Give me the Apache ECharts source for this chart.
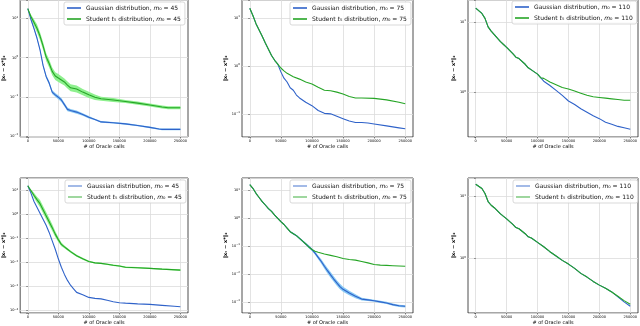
<!DOCTYPE html>
<html>
<head>
<meta charset="utf-8">
<script src="https://cdn.jsdelivr.net/npm/echarts@6/dist/echarts.min.js"></script>
<style>
  html, body { margin: 0; padding: 0; background: #fff; }
  #chart { width: 640px; height: 326px; }
</style>
</head>
<body>
<div id="chart"></div>
<script>
// x ticks shared by every panel
const xTicks = [0, 50000, 100000, 150000, 200000, 250000];
const xLabel = '# of Oracle calls';
const yLabel = '\u2016x\u209C \u2212 x*\u2016\u2082';

// values are log10 of the error; spread = half width of the shaded band (decades)
// --- top row ---
const gaussTop45X = [0, 5000, 10000, 15000, 20000, 25000, 30000, 35000, 40000, 45000, 50000, 55000, 60000, 65000, 70000, 80000, 90000, 100000, 110000, 120000, 140000, 160000, 180000, 200000, 215000, 220000, 250000];
const gaussTop45 = [1.25, 0.98, 0.75, 0.5, 0.2, -0.2, -0.48, -0.65, -0.88, -0.95, -1.01, -1.08, -1.2, -1.32, -1.35, -1.39, -1.45, -1.52, -1.58, -1.64, -1.66, -1.69, -1.73, -1.78, -1.82, -1.83, -1.83];
const gaussTop45Spread = [0, 0.02, 0.02, 0.03, 0.03, 0.04, 0.04, 0.05, 0.05, 0.05, 0.05, 0.05, 0.05, 0.05, 0.04, 0.04, 0.03, 0.03, 0.02, 0.02, 0.02, 0.02, 0.02, 0.02, 0.02, 0.02, 0.02];
const studTop45X = [0, 5000, 10000, 15000, 20000, 25000, 30000, 35000, 40000, 45000, 50000, 60000, 65000, 70000, 80000, 90000, 100000, 110000, 120000, 140000, 160000, 180000, 200000, 220000, 230000, 250000];
const studTop45 = [1.25, 1.05, 0.9, 0.75, 0.55, 0.3, 0.02, -0.15, -0.35, -0.47, -0.52, -0.62, -0.7, -0.77, -0.8, -0.88, -0.95, -1.01, -1.05, -1.08, -1.12, -1.16, -1.21, -1.26, -1.28, -1.28];
const studTop45Spread = [0, 0.05, 0.08, 0.1, 0.1, 0.1, 0.1, 0.1, 0.1, 0.1, 0.1, 0.09, 0.09, 0.09, 0.09, 0.08, 0.08, 0.07, 0.05, 0.05, 0.04, 0.04, 0.04, 0.04, 0.04, 0.04];

const gaussTop75X = [0, 5000, 10000, 15000, 20000, 25000, 30000, 35000, 40000, 45000, 50000, 55000, 60000, 65000, 70000, 75000, 80000, 90000, 100000, 110000, 120000, 130000, 140000, 150000, 160000, 170000, 180000, 190000, 200000, 220000, 240000, 250000];
const gaussTop75 = [1.2, 1.05, 0.88, 0.75, 0.62, 0.48, 0.35, 0.22, 0.12, 0.04, -0.12, -0.25, -0.33, -0.45, -0.5, -0.6, -0.66, -0.75, -0.82, -0.92, -0.98, -0.99, -1.04, -1.09, -1.14, -1.17, -1.17, -1.18, -1.2, -1.24, -1.28, -1.3];
const studTop75X = [0, 5000, 10000, 15000, 20000, 25000, 30000, 35000, 40000, 45000, 50000, 55000, 60000, 70000, 80000, 90000, 100000, 110000, 120000, 130000, 140000, 150000, 160000, 170000, 180000, 200000, 220000, 240000, 250000];
const studTop75 = [1.2, 1.05, 0.88, 0.75, 0.62, 0.48, 0.35, 0.22, 0.12, 0.04, -0.04, -0.1, -0.15, -0.22, -0.27, -0.33, -0.37, -0.44, -0.5, -0.51, -0.54, -0.58, -0.63, -0.66, -0.66, -0.67, -0.7, -0.75, -0.78];

const gaussTop110X = [0, 10000, 15000, 20000, 25000, 30000, 40000, 45000, 50000, 60000, 65000, 70000, 80000, 85000, 90000, 100000, 105000, 110000, 120000, 130000, 140000, 150000, 160000, 170000, 180000, 190000, 200000, 210000, 220000, 230000, 240000, 250000];
const gaussTop110 = [1.195, 1.12, 1.05, 0.93, 0.87, 0.82, 0.72, 0.68, 0.64, 0.55, 0.5, 0.48, 0.4, 0.35, 0.32, 0.26, 0.21, 0.16, 0.1, 0.03, -0.04, -0.12, -0.17, -0.23, -0.28, -0.33, -0.37, -0.42, -0.45, -0.48, -0.5, -0.52];
const studTop110X = gaussTop110X;
const studTop110 = [1.195, 1.12, 1.05, 0.93, 0.87, 0.82, 0.72, 0.68, 0.64, 0.55, 0.5, 0.48, 0.4, 0.35, 0.32, 0.26, 0.21, 0.2, 0.15, 0.11, 0.07, 0.05, 0.02, -0.01, -0.04, -0.06, -0.07, -0.08, -0.09, -0.1, -0.11, -0.11];

// --- bottom row ---
const gaussBot45X = [0, 5000, 10000, 15000, 20000, 25000, 30000, 35000, 40000, 45000, 50000, 55000, 60000, 65000, 70000, 75000, 80000, 90000, 100000, 110000, 120000, 130000, 140000, 150000, 160000, 180000, 200000, 220000, 240000, 250000];
const gaussBot45 = [1.2, 0.9, 0.55, 0.3, 0.05, -0.2, -0.45, -0.75, -1.1, -1.45, -1.85, -2.2, -2.5, -2.75, -2.95, -3.1, -3.25, -3.35, -3.46, -3.5, -3.52, -3.58, -3.64, -3.68, -3.7, -3.73, -3.75, -3.79, -3.83, -3.85];
const studBot45X = [0, 5000, 10000, 15000, 20000, 25000, 30000, 35000, 40000, 45000, 50000, 55000, 60000, 65000, 70000, 80000, 90000, 100000, 110000, 120000, 130000, 140000, 150000, 160000, 180000, 200000, 220000, 250000];
const studBot45 = [1.2, 1.0, 0.8, 0.62, 0.45, 0.2, -0.05, -0.3, -0.55, -0.82, -1.05, -1.25, -1.35, -1.45, -1.55, -1.72, -1.85, -1.96, -2.02, -2.04, -2.08, -2.12, -2.15, -2.2, -2.22, -2.25, -2.28, -2.32];
const studBot45Spread = [0, 0.05, 0.1, 0.12, 0.15, 0.15, 0.15, 0.15, 0.14, 0.12, 0.1, 0.08, 0.06, 0.05, 0.05, 0.04, 0.04, 0.03, 0.03, 0.03, 0.03, 0.03, 0.03, 0.03, 0.03, 0.03, 0.03, 0.03];

const gaussBot75X = [0, 5000, 10000, 15000, 20000, 25000, 30000, 35000, 40000, 45000, 50000, 55000, 60000, 65000, 70000, 75000, 80000, 85000, 90000, 95000, 100000, 105000, 110000, 115000, 120000, 125000, 130000, 135000, 140000, 145000, 150000, 160000, 170000, 180000, 190000, 200000, 210000, 220000, 230000, 240000, 250000];
const gaussBot75 = [1.21, 1.08, 0.9, 0.75, 0.6, 0.48, 0.35, 0.25, 0.12, 0.0, -0.12, -0.22, -0.35, -0.48, -0.55, -0.62, -0.72, -0.82, -0.92, -1.02, -1.12, -1.25, -1.4, -1.55, -1.72, -1.88, -2.03, -2.18, -2.32, -2.45, -2.55, -2.68, -2.8, -2.9, -2.93, -2.96, -3.0, -3.04, -3.1, -3.14, -3.16];
const gaussBot75Spread = [0, 0, 0, 0, 0.02, 0.02, 0.02, 0.02, 0.02, 0.02, 0.02, 0.02, 0.02, 0.02, 0.03, 0.03, 0.03, 0.04, 0.04, 0.05, 0.05, 0.06, 0.07, 0.08, 0.09, 0.1, 0.1, 0.1, 0.1, 0.1, 0.09, 0.08, 0.07, 0.05, 0.04, 0.04, 0.04, 0.04, 0.04, 0.04, 0.04];
const studBot75X = [0, 5000, 10000, 15000, 20000, 25000, 30000, 35000, 40000, 45000, 50000, 55000, 60000, 65000, 70000, 75000, 80000, 85000, 90000, 95000, 100000, 105000, 110000, 120000, 130000, 140000, 150000, 160000, 170000, 180000, 190000, 200000, 210000, 220000, 230000, 240000, 250000];
const studBot75 = [1.21, 1.08, 0.9, 0.75, 0.6, 0.48, 0.35, 0.25, 0.12, 0.0, -0.12, -0.22, -0.35, -0.48, -0.55, -0.62, -0.72, -0.82, -0.92, -1.03, -1.12, -1.18, -1.22, -1.28, -1.33, -1.38, -1.44, -1.48, -1.5, -1.55, -1.6, -1.66, -1.68, -1.69, -1.7, -1.71, -1.72];

const gaussBot110X = [0, 10000, 15000, 20000, 25000, 30000, 40000, 45000, 50000, 60000, 65000, 70000, 80000, 85000, 90000, 100000, 110000, 120000, 130000, 140000, 150000, 160000, 170000, 180000, 190000, 200000, 210000, 220000, 230000, 240000, 250000];
const gaussBot110 = [1.2, 1.13, 1.05, 0.92, 0.86, 0.82, 0.72, 0.68, 0.64, 0.55, 0.5, 0.48, 0.4, 0.35, 0.33, 0.26, 0.19, 0.11, 0.04, -0.03, -0.09, -0.16, -0.24, -0.3, -0.37, -0.43, -0.48, -0.54, -0.62, -0.7, -0.77];
const studBot110X = gaussBot110X;
const studBot110 = [1.2, 1.13, 1.05, 0.92, 0.86, 0.82, 0.72, 0.68, 0.64, 0.55, 0.5, 0.48, 0.4, 0.35, 0.33, 0.26, 0.19, 0.11, 0.04, -0.03, -0.09, -0.16, -0.24, -0.3, -0.37, -0.43, -0.48, -0.54, -0.61, -0.68, -0.74];

const BLUE = '#2f62c9', BLUE_BAND = '#86c8f4';
const GREEN = '#26a526', GREEN_BAND = '#8ef08e';

function names(m0) {
  return ['Gaussian distribution, m\u2080 = ' + m0, 'Student t\u2085 distribution, m\u2080 = ' + m0];
}

const panels = [
  { grid: { left: 17, top: -2, width: 171, height: 139 }, yMin: -2.025, yMax: 1.47, legend: { left: 64, top: 2 }, m0: 45,
    gauss: [gaussTop45X, gaussTop45, gaussTop45Spread], stud: [studTop45X, studTop45, studTop45Spread] },
  { grid: { left: 242, top: -2, width: 171, height: 139 }, yMin: -1.47, yMax: 1.37, legend: { left: 290, top: 2 }, m0: 75,
    gauss: [gaussTop75X, gaussTop75, null], stud: [studTop75X, studTop75, null] },
  { grid: { left: 468, top: -2, width: 170, height: 139 }, yMin: -0.63, yMax: 1.31, legend: { left: 512, top: 1 }, m0: 110,
    gauss: [gaussTop110X, gaussTop110, null], stud: [studTop110X, studTop110, null] },
  { grid: { left: 17, top: 178, width: 171, height: 137 }, yMin: -4.11, yMax: 1.52, legend: { left: 65, top: 180 }, m0: 45, faded: true,
    gauss: [gaussBot45X, gaussBot45, null], stud: [studBot45X, studBot45, studBot45Spread] },
  { grid: { left: 242, top: 178, width: 171, height: 137 }, yMin: -3.40, yMax: 1.45, legend: { left: 290, top: 180 }, m0: 75, faded: true,
    gauss: [gaussBot75X, gaussBot75, gaussBot75Spread], stud: [studBot75X, studBot75, null] },
  { grid: { left: 468, top: 178, width: 170, height: 137 }, yMin: -0.88, yMax: 1.30, legend: { left: 513, top: 180 }, m0: 110, faded: true,
    gauss: [gaussBot110X, gaussBot110, null], stud: [studBot110X, studBot110, null] }
];

const chart = echarts.init(document.getElementById('chart'));
const grids = [], xAxes = [], yAxes = [], legends = [], series = [];

function supLabel(v) {
  const e = Math.log10(v);
  const r = Math.round(e);
  if (Math.abs(e - r) > 1e-6) return '';
  return '{b|10}{e|' + (r < 0 ? '\u2212' + (-r) : r) + '}';
}

function addCurve(i, name, d, color, band) {
  const [xs, logs, spread] = d;
  if (spread) {
    // shaded band: one polygon, upper edge then lower edge back, placed through the axes
    const bandData = xs.map((x, k) => [x, Math.pow(10, logs[k] - spread[k]), Math.pow(10, logs[k] + spread[k])]);
    series.push({
      type: 'custom', xAxisIndex: i, yAxisIndex: i, silent: true, z: 1,
      encode: { x: 0, y: [1, 2] },
      data: bandData,
      renderItem: (params, api) => {
        if (params.dataIndex !== 0) return;
        const up = bandData.map(r => api.coord([r[0], r[2]]));
        const lo = bandData.map(r => api.coord([r[0], r[1]])).reverse();
        return { type: 'polygon', shape: { points: up.concat(lo) }, style: { fill: band } };
      }
    });
  }
  series.push({
    name: name, type: 'line', xAxisIndex: i, yAxisIndex: i, symbol: 'none', showSymbol: false, color: color,
    lineStyle: { color: color, width: 1.1 }, z: 3,
    data: xs.map((x, k) => [x, Math.pow(10, logs[k])])
  });
}

panels.forEach((p, i) => {
  grids.push(Object.assign({ show: true, borderColor: '#222', borderWidth: 0.8, backgroundColor: '#fff' }, p.grid));
  xAxes.push({
    type: 'value', gridIndex: i, min: -12500, max: 262500,
    name: xLabel, nameLocation: 'middle', nameGap: 7,
    nameTextStyle: { fontSize: 5, color: '#000', fontFamily: 'DejaVu Sans' },
    axisLine: { show: false },
    axisTick: { show: true, length: 1.5, lineStyle: { color: '#333', width: 0.6 }, customValues: xTicks },
    axisLabel: { fontSize: 3.5, margin: 2, color: '#000', fontFamily: 'DejaVu Sans', customValues: xTicks, formatter: v => String(v) },
    splitLine: { show: true, lineStyle: { color: '#dcdcdc', width: 0.8 } }
  });
  yAxes.push({
    type: 'log', logBase: 10, gridIndex: i, min: Math.pow(10, p.yMin), max: Math.pow(10, p.yMax),
    name: yLabel, nameLocation: 'middle', nameGap: 11,
    nameTextStyle: { fontSize: 5, color: '#000', fontWeight: 'bold', fontFamily: 'DejaVu Sans' },
    axisLine: { show: false },
    axisTick: { show: true, length: 1.5, lineStyle: { color: '#333', width: 0.6 } },
    axisLabel: { margin: 2, color: '#000', fontFamily: 'DejaVu Sans', formatter: supLabel,
      rich: { b: { fontSize: 3.5, color: '#000' }, e: { fontSize: 2.6, color: '#000', padding: [0, 0, 3, 0] } } },
    splitLine: { show: true, lineStyle: { color: '#dcdcdc', width: 0.8 } }
  });
  const nm = names(p.m0);
  legends.push({
    left: p.legend.left, top: p.legend.top, orient: 'vertical', data: nm,
    icon: 'rect', itemWidth: 14, itemHeight: 1.6, itemGap: 5, padding: [3, 4, 3, 3],
    backgroundColor: 'rgba(255,255,255,0.85)', borderColor: '#cfcfcf', borderWidth: 0.8, borderRadius: 2,
    itemStyle: { opacity: p.faded ? 0.55 : 1 },
    textStyle: { fontSize: 6, color: '#111', fontFamily: 'DejaVu Sans', rich: { i: { fontStyle: 'italic', fontSize: 6, color: '#111' } } },
    formatter: n => n.replace('m\u2080', '{i|m}\u2080').replace('t\u2085', '{i|t}\u2085')
  });
  addCurve(i, nm[0], p.gauss, BLUE, BLUE_BAND);
  addCurve(i, nm[1], p.stud, GREEN, GREEN_BAND);
});

chart.setOption({
  animation: false,
  grid: grids,
  xAxis: xAxes,
  yAxis: yAxes,
  legend: legends,
  series: series
});
</script>
</body>
</html>
